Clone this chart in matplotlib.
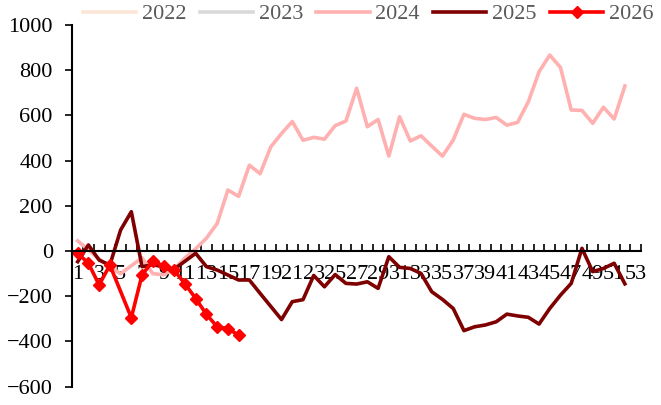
import numpy as np
import matplotlib.pyplot as plt

plt.rcParams['font.family'] = ['Liberation Serif', 'DejaVu Serif']

# Weekly values, weeks 1..53
weeks = np.arange(1, 54)
week_labels = [str(w) for w in weeks]

v2022 = []
v2023 = []
v2024 = [45, 5, -35, -70, -100, -65, -30, -100, -105, -80, -30, 10, 57, 122,
         270, 242, 380, 342, 461, 520, 573, 490, 503, 495, 555, 575, 720, 550,
         582, 420, 594, 487, 510, 464, 420, 491, 605, 587, 582, 591, 557, 569,
         660, 793, 867, 812, 624, 622, 565, 636, 584, 730]
v2025 = [-47, 27, -40, -62, 93, 174, -69, -60, -70, -80, -45, -10, -69, -84,
         -106, -128, -128, -187, -245, -303, -224, -215, -108, -158, -104, -143,
         -146, -136, -165, -25, -72, -77, -99, -180, -214, -254, -352, -335,
         -327, -313, -279, -287, -293, -323, -254, -195, -143, 12, -91, -77,
         -54, -145]
v2026 = [-10, -54, -150, -62, np.nan, -295, -105, -45, -65, -85, -145, -210,
         -280, -335, -343, -372]

years = ['2022', '2023', '2024', '2025', '2026']
colors = ['#FBE5D6', '#D9D9D9', '#FFB0B0', '#7F0000', '#FF0000']

fig = plt.figure(figsize=(6.61, 4.05), dpi=100)
ax = fig.add_axes([0.1094, 0.0452, 0.9697 - 0.1094, 0.9383 - 0.0452])

lw = 2.6
for vals, yr, c in zip([v2022, v2023, v2024, v2025], years[:4], colors[:4]):
    ax.plot(weeks[:len(vals)], vals, color=c, lw=lw, label=yr)

# 2026: line spans the missing week, markers on the real points
y26 = np.array(v2026, dtype=float)
x26 = weeks[:len(y26)]
ok = ~np.isnan(y26)
ax.plot(x26[ok], y26[ok], color=colors[4], lw=lw, marker='D', ms=6.5,
        mec=colors[4], mfc=colors[4], label=years[4])

ax.set_xlim(0.5, 53.5)
ax.set_ylim(-600, 1000)
ax.set_yticks(np.arange(-600, 1001, 200))

ax.spines['top'].set_visible(False)
ax.spines['right'].set_visible(False)
ax.spines['bottom'].set_position(('data', 0))
ax.spines['left'].set_linewidth(1.5)
ax.spines['bottom'].set_linewidth(1.5)

# boundary ticks between weeks, labels on every other week
ax.set_xticks(np.arange(0.5, 54, 1))
ax.set_xticklabels([])
ax.set_xticks(weeks[::2], minor=True)
ax.set_xticklabels(week_labels[::2], minor=True)
ax.tick_params(axis='x', which='major', direction='in', length=5, width=1.2)
ax.tick_params(axis='x', which='minor', length=0, pad=10, labelsize=16)
ax.tick_params(axis='y', direction='out', length=5, width=1.2, pad=9,
               labelsize=16)

fig.legend(loc='center', bbox_to_anchor=(0.557, 0.965), ncol=5, frameon=False,
           fontsize=16, handlelength=2.4, handletextpad=0.25,
           columnspacing=0.6, labelcolor='#595959')

fig.savefig('out.png', dpi=100)
